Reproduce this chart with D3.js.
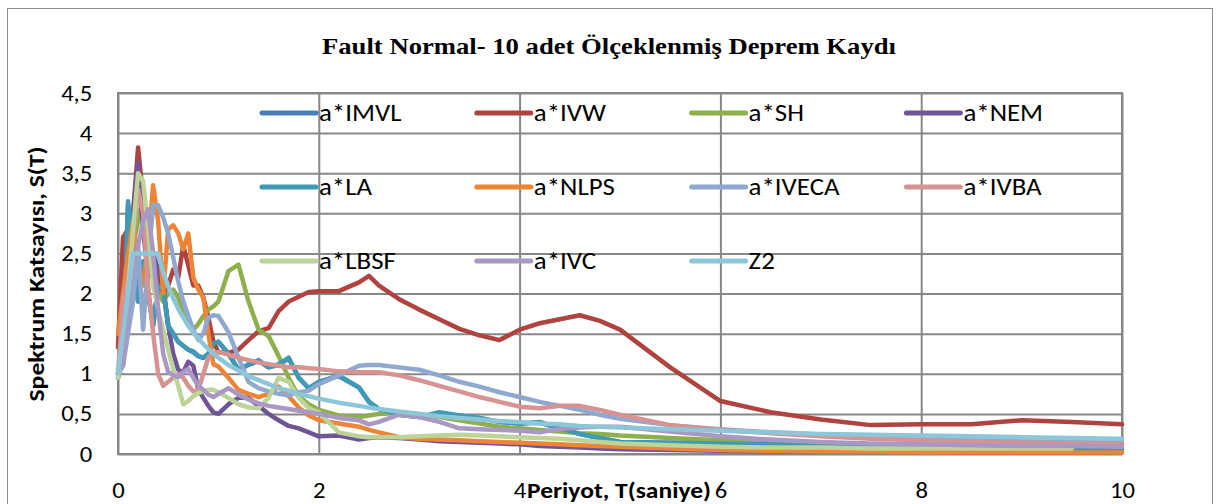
<!DOCTYPE html>
<html>
<head>
<meta charset="utf-8">
<script src="https://cdn.jsdelivr.net/npm/d3@7"></script>
<style>
  body { margin: 0; background: #fff; }
  text { font-family: Carlito, Lato, "Liberation Sans", Arial, sans-serif; }
</style>
</head>
<body>
<div id="chart"></div>
<script>
// periyot (s)
var periods = [0, 0.05, 0.1, 0.15, 0.2, 0.25, 0.3, 0.35, 0.4, 0.45, 0.5, 0.55, 0.6, 0.65, 0.7, 0.75, 0.8, 0.85, 0.9, 0.95,
  1.0, 1.1, 1.2, 1.3, 1.4, 1.5, 1.6, 1.7, 1.8, 1.9, 2.0, 2.2, 2.4, 2.5, 2.6, 2.8, 3.0, 3.2, 3.4, 3.6, 3.8,
  4.0, 4.2, 4.4, 4.6, 4.8, 5.0, 5.5, 6.0, 6.5, 7.0, 7.5, 8.0, 8.5, 9.0, 9.5, 10];

// a*IMVL lies almost entirely under the other records
var imvl = [0.95, 1.2, 3.1, 2.5, 1.9, 2.4, 2.0, 1.6, 2.1, 2.04, 1.6, 1.5, 1.4, 1.35, 1.3, 1.27, 1.22, 1.2, 1.25, 1.37,
  1.4, 1.25, 1.05, 1.11, 1.16, 1.08, 1.11, 1.19, 0.95, 0.82, 0.9, 0.97, 0.83, 0.65, 0.56, 0.49, 0.46, 0.51, 0.48, 0.45, 0.4,
  0.38, 0.39, 0.32, 0.25, 0.2, 0.15, 0.14, 0.13, 0.12, 0.1, 0.09, 0.08, 0.07, 0.06, 0.06, 0.05];
var ivw = [1.33, 2.7, 2.8, 3.0, 3.82, 3.2, 2.5, 2.3, 2.2, 2.0, 2.1, 2.3, 2.2, 2.6, 2.35, 2.1, 2.1, 1.95, 1.7, 1.4,
  1.27, 1.26, 1.3, 1.42, 1.53, 1.57, 1.78, 1.9, 1.96, 2.02, 2.03, 2.03, 2.14, 2.22, 2.1, 1.93, 1.8, 1.68, 1.56, 1.48, 1.42,
  1.55, 1.63, 1.68, 1.73, 1.66, 1.55, 1.08, 0.66, 0.52, 0.43, 0.36, 0.37, 0.37, 0.42, 0.4, 0.37];
var sh = [1.0, 1.4, 2.2, 2.6, 2.9, 3.2, 2.6, 2.3, 2.0, 1.9, 2.0, 2.05, 1.95, 1.75, 1.6, 1.55, 1.62, 1.72, 1.8, 1.84,
  1.9, 2.28, 2.36, 1.9, 1.55, 1.47, 1.22, 0.95, 0.72, 0.62, 0.55, 0.48, 0.46, 0.48, 0.5, 0.52, 0.5, 0.46, 0.42, 0.38, 0.34,
  0.32, 0.3, 0.28, 0.26, 0.25, 0.23, 0.2, 0.17, 0.15, 0.13, 0.12, 0.11, 0.1, 0.09, 0.09, 0.08];
var nem = [1.0, 1.3, 2.0, 3.0, 3.63, 2.8, 2.2, 2.5, 2.3, 2.1, 1.6, 1.25, 1.05, 1.02, 1.15, 1.1, 0.8, 0.7, 0.6, 0.52,
  0.5, 0.62, 0.7, 0.7, 0.6, 0.5, 0.42, 0.35, 0.32, 0.27, 0.22, 0.23, 0.18, 0.2, 0.21, 0.2, 0.18, 0.16, 0.15, 0.14, 0.13,
  0.12, 0.1, 0.09, 0.08, 0.07, 0.06, 0.05, 0.04, 0.035, 0.03, 0.03, 0.025, 0.02, 0.02, 0.02, 0.02];
var la = [0.95, 1.2, 3.15, 2.5, 1.9, 2.4, 2.0, 1.6, 2.1, 2.05, 1.6, 1.5, 1.4, 1.35, 1.3, 1.28, 1.22, 1.2, 1.25, 1.38,
  1.4, 1.25, 1.05, 1.12, 1.17, 1.08, 1.12, 1.2, 0.95, 0.82, 0.9, 0.98, 0.83, 0.65, 0.56, 0.49, 0.46, 0.52, 0.48, 0.45, 0.4,
  0.38, 0.4, 0.32, 0.25, 0.2, 0.15, 0.14, 0.13, 0.12, 0.1, 0.09, 0.08, 0.07, 0.06, 0.06, 0.05];
var nlps = [1.5, 2.0, 2.5, 2.9, 2.4, 2.1, 2.6, 3.35, 2.9, 2.0, 2.8, 2.85, 2.75, 2.55, 2.75, 2.2, 2.05, 1.95, 1.5, 1.12,
  1.09, 0.95, 0.8, 0.75, 0.71, 0.75, 0.84, 0.72, 0.58, 0.48, 0.42, 0.38, 0.34, 0.3, 0.27, 0.21, 0.19, 0.18, 0.17, 0.16, 0.15,
  0.14, 0.13, 0.12, 0.11, 0.1, 0.09, 0.07, 0.05, 0.04, 0.03, 0.03, 0.02, 0.02, 0.02, 0.02, 0.02];
var iveca = [1.0, 1.1, 1.5, 1.9, 2.6, 1.55, 2.4, 3.1, 3.1, 2.95, 2.75, 2.45, 2.15, 1.9, 1.72, 1.55, 1.42, 1.5, 1.7, 1.73,
  1.72, 1.52, 1.2, 0.9, 0.82, 0.78, 0.75, 0.73, 0.77, 0.79, 0.87, 0.98, 1.1, 1.11, 1.11, 1.08, 1.05, 0.98, 0.9, 0.84, 0.77,
  0.71, 0.65, 0.6, 0.55, 0.49, 0.44, 0.36, 0.31, 0.27, 0.24, 0.21, 0.19, 0.17, 0.16, 0.15, 0.14];
var ivba = [1.0, 1.9, 2.2, 2.7, 3.3, 3.0, 2.1, 1.5, 1.0, 0.85, 0.9, 0.95, 1.0, 0.95, 0.85, 0.78, 0.8, 1.0, 1.2, 1.26,
  1.27, 1.24, 1.2, 1.17, 1.14, 1.12, 1.1, 1.08, 1.08, 1.07, 1.06, 1.03, 1.02, 1.02, 1.02, 0.98, 0.92, 0.85, 0.78, 0.71, 0.65,
  0.59, 0.57, 0.6, 0.6, 0.55, 0.49, 0.36, 0.3, 0.26, 0.22, 0.19, 0.17, 0.15, 0.14, 0.13, 0.12];
var lbsf = [0.95, 1.3, 2.0, 2.8, 3.5, 3.4, 2.8, 2.1, 1.8, 1.55, 1.3, 1.05, 0.85, 0.62, 0.66, 0.72, 0.76, 0.78, 0.8, 0.8,
  0.77, 0.7, 0.62, 0.58, 0.57, 0.7, 0.95, 0.9, 0.7, 0.57, 0.52, 0.27, 0.22, 0.21, 0.21, 0.21, 0.22, 0.23, 0.24, 0.23, 0.22,
  0.21, 0.2, 0.19, 0.17, 0.15, 0.13, 0.11, 0.09, 0.08, 0.08, 0.07, 0.07, 0.07, 0.07, 0.07, null];
var ivc = [1.05, 1.1, 1.8, 2.3, 2.6, 2.9, 3.05, 2.5, 1.8, 1.25, 1.02, 0.98, 0.96, 1.02, 1.06, 0.95, 0.85, 0.8, 0.74, 0.71,
  0.75, 0.82, 0.74, 0.68, 0.63, 0.6, 0.58, 0.56, 0.54, 0.52, 0.5, 0.45, 0.42, 0.37, 0.4, 0.49, 0.46, 0.4, 0.32, 0.31, 0.3,
  0.29, 0.27, 0.31, 0.33, 0.34, 0.34, 0.28, 0.22, 0.18, 0.15, 0.13, 0.12, 0.11, 0.1, 0.1, 0.09];
var z2 = [1.0, 1.5, 2.0, 2.5, 2.5, 2.5, 2.5, 2.5, 2.5, 2.27, 2.09, 1.94, 1.81, 1.7, 1.6, 1.51, 1.44, 1.37, 1.31, 1.25,
  1.2, 1.11, 1.04, 0.97, 0.92, 0.87, 0.82, 0.79, 0.75, 0.72, 0.69, 0.64, 0.6, 0.58, 0.56, 0.53, 0.5, 0.47, 0.45, 0.43, 0.41,
  0.4, 0.38, 0.37, 0.35, 0.34, 0.33, 0.31, 0.29, 0.27, 0.25, 0.24, 0.23, 0.22, 0.21, 0.2, 0.19];

var seriesNames = ["a*IMVL", "a*IVW", "a*SH", "a*NEM", "a*LA", "a*NLPS", "a*IVECA", "a*IVBA", "a*LBSF", "a*IVC", "Z2"];
var seriesValues = [imvl, ivw, sh, nem, la, nlps, iveca, ivba, lbsf, ivc, z2];
var seriesColors = ["#4A7EBB", "#B0433F", "#8DB04C", "#6F5597", "#3E9AB5", "#EC8535", "#8FA8D0", "#D69392", "#BCD497", "#A998C4", "#8EC6D9"];

var xTicks = [0, 2, 4, 6, 8, 10];
var yTicks = [0, 0.5, 1, 1.5, 2, 2.5, 3, 3.5, 4, 4.5];

var W = 1218, H = 504;
var plotLeft = 118, plotRight = 1122, plotTop = 93, plotBottom = 454;
var gridColor = "#878787";
var stretch = 1.12; // text in the picture is a bit wider than the font

var svg = d3.select("#chart")
    .append("svg")
    .attr("width", W)
    .attr("height", H);

// chart border
svg.append("rect")
    .attr("x", 7.5).attr("y", 8.5)
    .attr("width", 1205).attr("height", 520)
    .attr("fill", "#fff")
    .attr("stroke", "#8c8c8c")
    .attr("stroke-width", 1);

svg.append("text")
    .attr("x", 609).attr("y", 54)
    .attr("text-anchor", "middle")
    .attr("textLength", 574)
    .attr("lengthAdjust", "spacingAndGlyphs")
    .style("font-family", "'Liberation Serif', 'Times New Roman', serif")
    .style("font-weight", "bold")
    .style("font-size", "24px")
    .text("Fault Normal- 10 adet Ölçeklenmiş Deprem Kaydı");

var x = d3.scaleLinear().domain([0, 10]).range([plotLeft, plotRight]);
var y = d3.scaleLinear().domain([0, 4.5]).range([plotBottom, plotTop]);

var comma = function(d) { return String(d).replace(".", ","); };

var yAxis = svg.append("g")
    .attr("transform", "translate(" + plotLeft + ",0)")
    .call(d3.axisLeft(y).tickValues(yTicks).tickSize(-(plotRight - plotLeft)).tickPadding(23).tickFormat(comma));
yAxis.select(".domain").remove();
yAxis.selectAll("line").attr("stroke", gridColor).attr("stroke-width", 2);
yAxis.selectAll("text").style("font-size", "22px").attr("fill", "#000")
    .attr("transform", "scale(" + stretch + ",1)");

var xAxis = svg.append("g")
    .attr("transform", "translate(0," + plotBottom + ")")
    .call(d3.axisBottom(x).tickValues(xTicks).tickSize(-(plotBottom - plotTop)).tickFormat(d3.format("d")));
xAxis.select(".domain").remove();
xAxis.selectAll("line").attr("stroke", gridColor).attr("stroke-width", 2);
xAxis.selectAll("text").attr("dy", null).attr("y", 44).style("font-size", "22px").attr("fill", "#000")
    .attr("transform", "scale(" + stretch + ",1)");

// plot frame
svg.append("rect")
    .attr("x", plotLeft).attr("y", plotTop)
    .attr("width", plotRight - plotLeft).attr("height", plotBottom - plotTop)
    .attr("fill", "none")
    .attr("stroke", gridColor)
    .attr("stroke-width", 2);

// legend (inside plot, 4 columns)
var legend = svg.append("g");
seriesNames.forEach(function(name, i) {
    var col = i % 4, row = Math.floor(i / 4);
    var lx = 262 + col * 214.8, ly = 113 + row * 74;
    legend.append("line")
        .attr("x1", lx).attr("x2", lx + 54)
        .attr("y1", ly).attr("y2", ly)
        .attr("stroke", seriesColors[i])
        .attr("stroke-width", 5)
        .attr("stroke-linecap", "round");
    legend.append("text")
        .attr("transform", "translate(" + (lx + 57) + "," + (ly + 8) + ") scale(" + stretch + ",1)")
        .style("font-size", "24px")
        .text(name);
});

var line = d3.line()
    .defined(function(d) { return d != null; })
    .x(function(d, i) { return x(periods[i]); })
    .y(function(d) { return y(d); });

svg.append("g").selectAll("path")
    .data(seriesValues)
    .enter()
    .append("path")
    .attr("d", function(d) { return line(d); })
    .attr("fill", "none")
    .attr("stroke", function(d, i) { return seriesColors[i]; })
    .attr("stroke-width", 4.5)
    .attr("stroke-linejoin", "round")
    .attr("stroke-linecap", "round");

svg.append("text")
    .attr("transform", "translate(44,274) rotate(-90)")
    .attr("text-anchor", "middle")
    .attr("textLength", 255)
    .attr("lengthAdjust", "spacingAndGlyphs")
    .style("font-size", "23px")
    .style("font-weight", "bold")
    .text("Spektrum Katsayısı, S(T)");

svg.append("text")
    .attr("x", 619).attr("y", 498)
    .attr("text-anchor", "middle")
    .attr("textLength", 184)
    .attr("lengthAdjust", "spacingAndGlyphs")
    .style("font-size", "22px")
    .style("font-weight", "bold")
    .text("Periyot, T(saniye)");
</script>
</body>
</html>
